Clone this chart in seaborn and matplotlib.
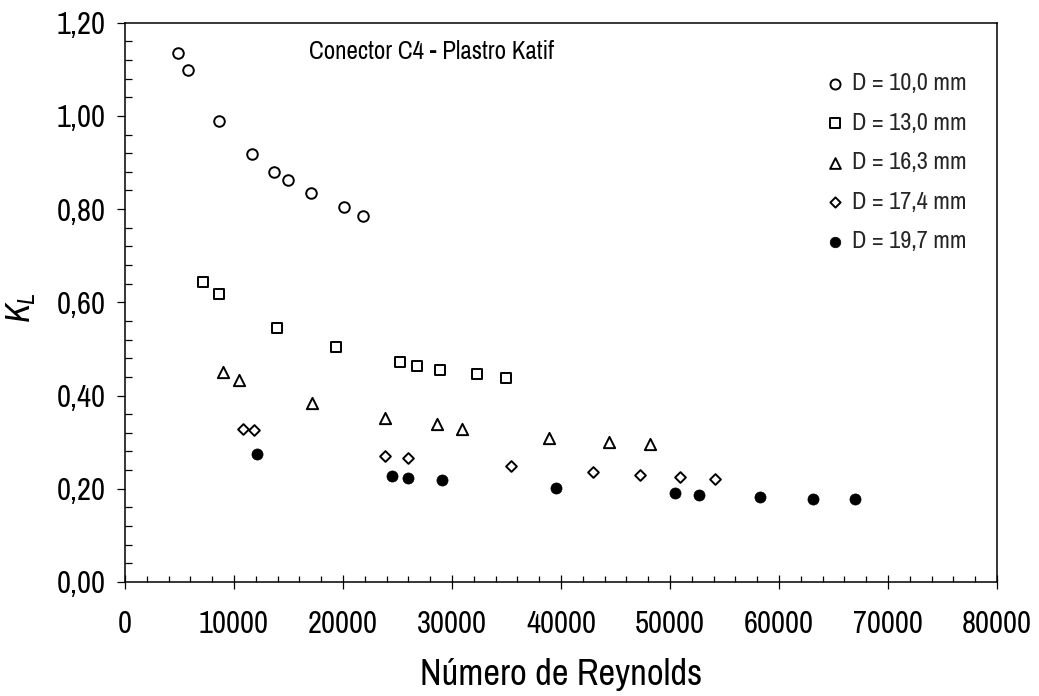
import matplotlib
matplotlib.use("Agg")
import matplotlib.pyplot as plt
from matplotlib.ticker import MultipleLocator, FuncFormatter
import seaborn as sns
import pandas as pd

# Reynolds number and loss coefficient K_L for each connector bore
re_d100 = [4890, 5750, 8600, 11620, 13700, 14950, 17060, 20090, 21860]
kl_d100 = [1.134, 1.098, 0.990, 0.918, 0.880, 0.862, 0.835, 0.804, 0.785]

re_d130 = [7180, 8600, 13920, 19360, 25230, 26820, 28900, 32270, 34930]
kl_d130 = [0.644, 0.618, 0.545, 0.505, 0.472, 0.464, 0.455, 0.446, 0.437]

re_d163 = [9020, 10460, 17180, 23850, 28650, 30950, 38900, 44400, 48140]
kl_d163 = [0.451, 0.433, 0.383, 0.351, 0.338, 0.329, 0.310, 0.301, 0.297]

re_d174 = [10800, 11840, 23850, 25990, 35390, 42960, 47250, 50950, 54130]
kl_d174 = [0.329, 0.326, 0.271, 0.267, 0.248, 0.235, 0.230, 0.225, 0.221]

re_d197 = [12140, 24500, 25960, 29110, 39540, 50490, 52630, 58260, 63090, 66940]
kl_d197 = [0.274, 0.228, 0.223, 0.218, 0.201, 0.190, 0.187, 0.183, 0.178, 0.178]

series_labels = ["D = 10,0 mm", "D = 13,0 mm", "D = 16,3 mm", "D = 17,4 mm", "D = 19,7 mm"]
title_text = "Conector C4 - Plastro Katif"
x_label = "Número de Reynolds"
y_label = "$K_L$"

sns.set_theme(style="white")
narrow = ["Archivo Narrow", "Liberation Sans", "DejaVu Sans"]
plt.rcParams["font.family"] = narrow
plt.rcParams["mathtext.fontset"] = "custom"
plt.rcParams["mathtext.it"] = "Archivo Narrow:italic"
plt.rcParams["mathtext.rm"] = "Archivo Narrow"

frames = []
for lab, xs, ys in zip(series_labels,
                       [re_d100, re_d130, re_d163, re_d174, re_d197],
                       [kl_d100, kl_d130, kl_d163, kl_d174, kl_d197]):
    frames.append(pd.DataFrame({"Re": xs, "KL": ys, "serie": lab}))
data = pd.concat(frames, ignore_index=True)

styles = {
    "D = 10,0 mm": dict(marker="o", s=58, color="white", edgecolor="black", linewidth=1.4),
    "D = 13,0 mm": dict(marker="s", s=55, color="white", edgecolor="black", linewidth=1.4),
    "D = 16,3 mm": dict(marker="^", s=66, color="white", edgecolor="black", linewidth=1.4),
    "D = 17,4 mm": dict(marker="D", s=30, color="white", edgecolor="black", linewidth=1.4),
    "D = 19,7 mm": dict(marker="o", s=64, color="black", edgecolor="black", linewidth=0.5),
}

fig = plt.figure(figsize=(10.39, 6.96), dpi=100)
ax = fig.add_axes([0.1203, 0.1638, 0.8393, 0.8036])

for lab in series_labels:
    sub = data[data["serie"] == lab]
    sns.scatterplot(data=sub, x="Re", y="KL", label=lab, ax=ax, zorder=3, **styles[lab])

ax.set_xlim(0, 80000)
ax.set_ylim(0, 1.2)
ax.xaxis.set_major_locator(MultipleLocator(10000))
ax.xaxis.set_minor_locator(MultipleLocator(2000))
ax.yaxis.set_major_locator(MultipleLocator(0.2))
ax.yaxis.set_minor_locator(MultipleLocator(0.04))
ax.xaxis.set_major_formatter(FuncFormatter(lambda v, p: f"{int(round(v))}"))
ax.yaxis.set_major_formatter(FuncFormatter(lambda v, p: f"{v:.2f}".replace(".", ",")))

for sp in ax.spines.values():
    sp.set_color("black")
    sp.set_linewidth(1.1)

ax.tick_params(axis="x", which="major", direction="inout", length=10, width=0.9,
               color="black", labelsize=22, pad=15, bottom=True, top=False)
ax.tick_params(axis="x", which="minor", direction="in", length=4.2, width=0.9,
               color="black", bottom=True, top=False)
ax.tick_params(axis="y", which="major", direction="out", length=5.8, width=0.9,
               color="black", labelsize=22, pad=8.4, left=True, right=False)
ax.tick_params(axis="y", which="minor", direction="in", length=4.8, width=0.9,
               color="black", left=True, right=False)
for t in ax.get_xticklabels() + ax.get_yticklabels():
    t.set_color("black")

ax.set_xlabel(x_label, fontsize=26.3, color="black")
ax.set_ylabel(y_label, fontsize=25, color="black")
ax.xaxis.set_label_coords(0.5, -0.136)
ax.yaxis.set_label_coords(-0.100, 0.49)

ax.text(0.211, 0.9476, title_text, transform=ax.transAxes, ha="left", va="center",
        fontsize=18, color="black")

ax.legend(loc="upper left", bbox_to_anchor=(0.8066, 0.910), frameon=False,
          borderpad=0, borderaxespad=0, handlelength=0.55, handletextpad=0.44,
          labelspacing=0.765, fontsize=17.5, markerscale=0.95)

fig.savefig("out.png", dpi=100, facecolor="white")
